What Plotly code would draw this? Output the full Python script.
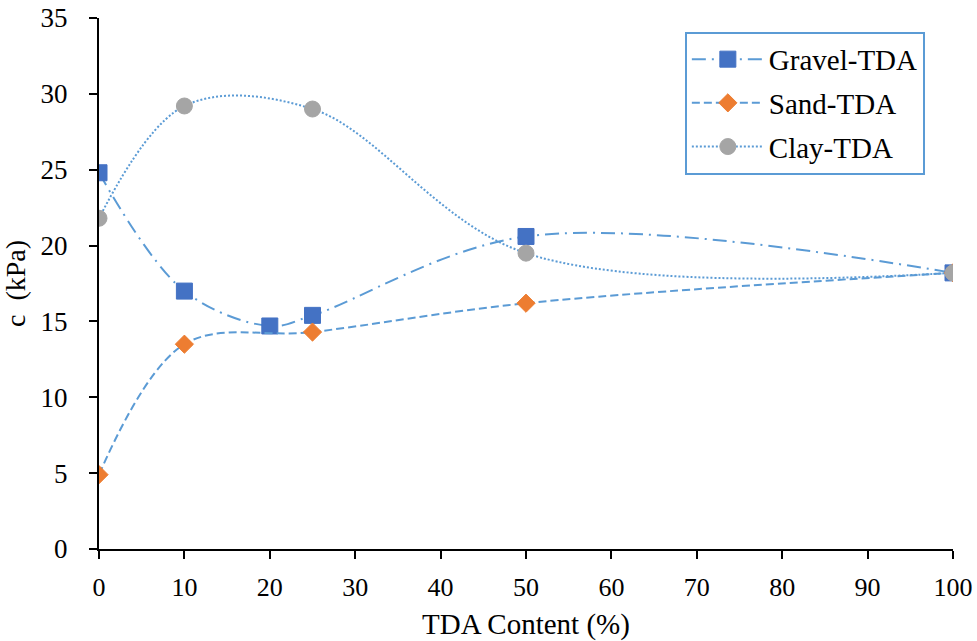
import plotly.graph_objects as go

gravel_x = [0, 10, 20, 25, 50, 100]
gravel_y = [24.8, 17.0, 14.7, 15.4, 20.6, 18.2]
sand_x = [0, 10, 25, 50, 100]
sand_y = [4.9, 13.5, 14.3, 16.2, 18.2]
clay_x = [0, 10, 25, 50, 100]
clay_y = [21.8, 29.2, 29.0, 19.5, 18.2]

x_ticks = [0, 10, 20, 30, 40, 50, 60, 70, 80, 90, 100]
y_ticks = [0, 5, 10, 15, 20, 25, 30, 35]

line_color = "#5B9BD5"
font = "Liberation Serif, Times New Roman, Times, DejaVu Serif, serif"

fig = go.Figure()
fig.add_trace(go.Scatter(
    x=gravel_x, y=gravel_y, name="Gravel-TDA", mode="lines+markers", legendgroup="g",
    line=dict(color=line_color, width=2, dash="14px,6px,2px,6px", shape="spline", smoothing=1),
    marker=dict(symbol="square", size=16, color="#4472C4", line=dict(color="#4472C4", width=1)),
))
fig.add_trace(go.Scatter(
    x=sand_x, y=sand_y, name="Sand-TDA", mode="lines+markers", legendgroup="s",
    line=dict(color=line_color, width=2, dash="8px,4px", shape="spline", smoothing=1),
    marker=dict(symbol="diamond", size=14, color="#ED7D31", line=dict(color="#ED7D31", width=1)),
))
fig.add_trace(go.Scatter(
    x=clay_x, y=clay_y, name="Clay-TDA", mode="lines+markers", legendgroup="c",
    line=dict(color=line_color, width=2, dash="2px,2px", shape="spline", smoothing=1),
    marker=dict(symbol="circle", size=16, color="#A5A5A5", line=dict(color="#A5A5A5", width=1)),
))

fig.update_layout(
    width=977, height=641,
    margin=dict(l=99, r=24, t=18, b=92),
    plot_bgcolor="white", paper_bgcolor="white",
    font=dict(family=font, size=26, color="black"),
    showlegend=True,
    legend=dict(
        x=0.686, y=0.974, xanchor="left", yanchor="top",
        bordercolor=line_color, borderwidth=2, bgcolor="white",
        font=dict(family=font, size=29, color="black"),
        itemwidth=72, tracegroupgap=3,
    ),
    xaxis=dict(
        range=[0, 100], tickvals=x_ticks, ticks="outside", ticklen=8, tickwidth=2,
        tickcolor="black", showline=True, linecolor="black", linewidth=2,
        showgrid=False, zeroline=False, ticklabelstandoff=6, ticklabeloverflow="allow",
        automargin=False,
        title=dict(text="TDA Content (%)", font=dict(family=font, size=29), standoff=18),
        tickfont=dict(family=font, size=26),
    ),
    yaxis=dict(
        range=[0, 35], tickvals=y_ticks, ticks="outside", ticklen=8, tickwidth=2,
        tickcolor="black", showline=True, linecolor="black", linewidth=2,
        showgrid=False, zeroline=False, ticklabelstandoff=16, ticklabeloverflow="allow",
        automargin=False,
        title=dict(text="c  (kPa)", font=dict(family=font, size=28), standoff=16),
        tickfont=dict(family=font, size=27),
    ),
)

fig.write_html("out.html", config={"displayModeBar": False},
               post_script="document.body.style.margin='0';")
